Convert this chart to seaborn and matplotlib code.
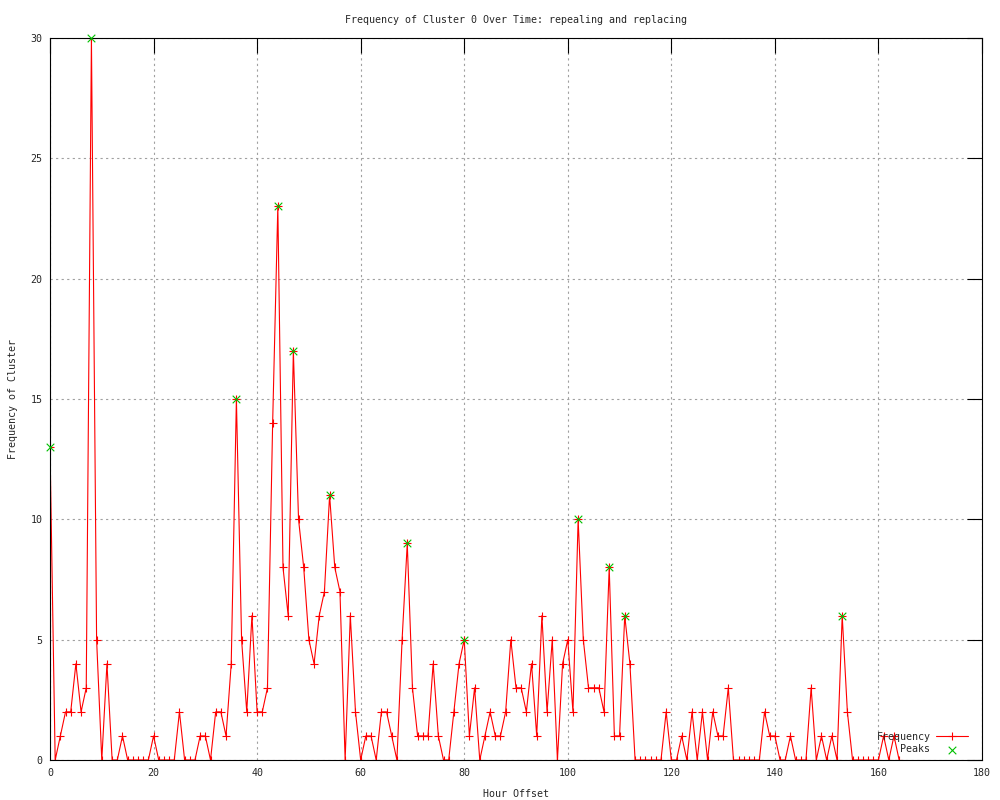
import seaborn as sns
import matplotlib.pyplot as plt
import pandas as pd

# Hourly counts for cluster 0
hours = list(range(165))
freq = [
    13, 0, 1, 2, 2, 4, 2, 3, 30, 5,
    0, 4, 0, 0, 1, 0, 0, 0, 0, 0,
    1, 0, 0, 0, 0, 2, 0, 0, 0, 1,
    1, 0, 2, 2, 1, 4, 15, 5, 2, 6,
    2, 2, 3, 14, 23, 8, 6, 17, 10, 8,
    5, 4, 6, 7, 11, 8, 7, 0, 6, 2,
    0, 1, 1, 0, 2, 2, 1, 0, 5, 9,
    3, 1, 1, 1, 4, 1, 0, 0, 2, 4,
    5, 1, 3, 0, 1, 2, 1, 1, 2, 5,
    3, 3, 2, 4, 1, 6, 2, 5, 0, 4,
    5, 2, 10, 5, 3, 3, 3, 2, 8, 1,
    1, 6, 4, 0, 0, 0, 0, 0, 0, 2,
    0, 0, 1, 0, 2, 0, 2, 0, 2, 1,
    1, 3, 0, 0, 0, 0, 0, 0, 2, 1,
    1, 0, 0, 1, 0, 0, 0, 3, 0, 1,
    0, 1, 0, 6, 2, 0, 0, 0, 0, 0,
    0, 1, 0, 1, 0,
]
peak_hours = [0, 8, 36, 44, 47, 54, 69, 80, 102, 108, 111, 153]
peak_values = [13, 30, 15, 23, 17, 11, 9, 5, 10, 8, 6, 6]

x_ticks = list(range(0, 181, 20))
y_ticks = list(range(0, 31, 5))

df = pd.DataFrame({'hour': hours, 'freq': freq})
peaks_df = pd.DataFrame({'hour': peak_hours, 'freq': peak_values})

sns.set_style('white')
plt.rcParams['font.family'] = ['DejaVu Sans Mono']
plt.rcParams['font.size'] = 7.2

fig = plt.figure(figsize=(10, 8), dpi=100)
ax = fig.add_axes([0.05, 0.05, 0.932, 0.9025])

sns.lineplot(data=df, x='hour', y='freq', color='#ff0000', linewidth=0.8,
             marker='+', markersize=6, markeredgewidth=0.8,
             markeredgecolor='#ff0000', label='Frequency', ax=ax)
sns.scatterplot(data=peaks_df, x='hour', y='freq', color='#00c000',
                marker='x', s=30, linewidth=0.8, label='Peaks', ax=ax,
                zorder=3, clip_on=False)

ax.set_xlim(0, 180)
ax.set_ylim(0, 30)
ax.set_xticks(x_ticks)
ax.set_yticks(y_ticks)
ax.grid(True, color='#a0a0a0', linestyle=(0, (2, 3)), linewidth=0.8)
ax.set_axisbelow(True)

for s in ax.spines.values():
    s.set_color('black')
    s.set_linewidth(0.8)
ax.tick_params(direction='in', length=11, width=0.8, color='black',
               top=True, right=True, labelsize=7.2, pad=5.5)

ax.set_title('Frequency of Cluster 0 Over Time: repealing and replacing',
             fontsize=7.2, pad=11)
ax.set_xlabel('Hour Offset', fontsize=7.2, labelpad=8)
ax.set_ylabel('Frequency of Cluster', fontsize=7.2, labelpad=9)

leg = ax.legend(loc='lower right', bbox_to_anchor=(0.993, -0.002),
                frameon=False, markerfirst=False, fontsize=7.2,
                handlelength=3.2, handletextpad=0.6, labelspacing=0.25,
                borderaxespad=0.3)

fig.savefig('out.png', dpi=100)
